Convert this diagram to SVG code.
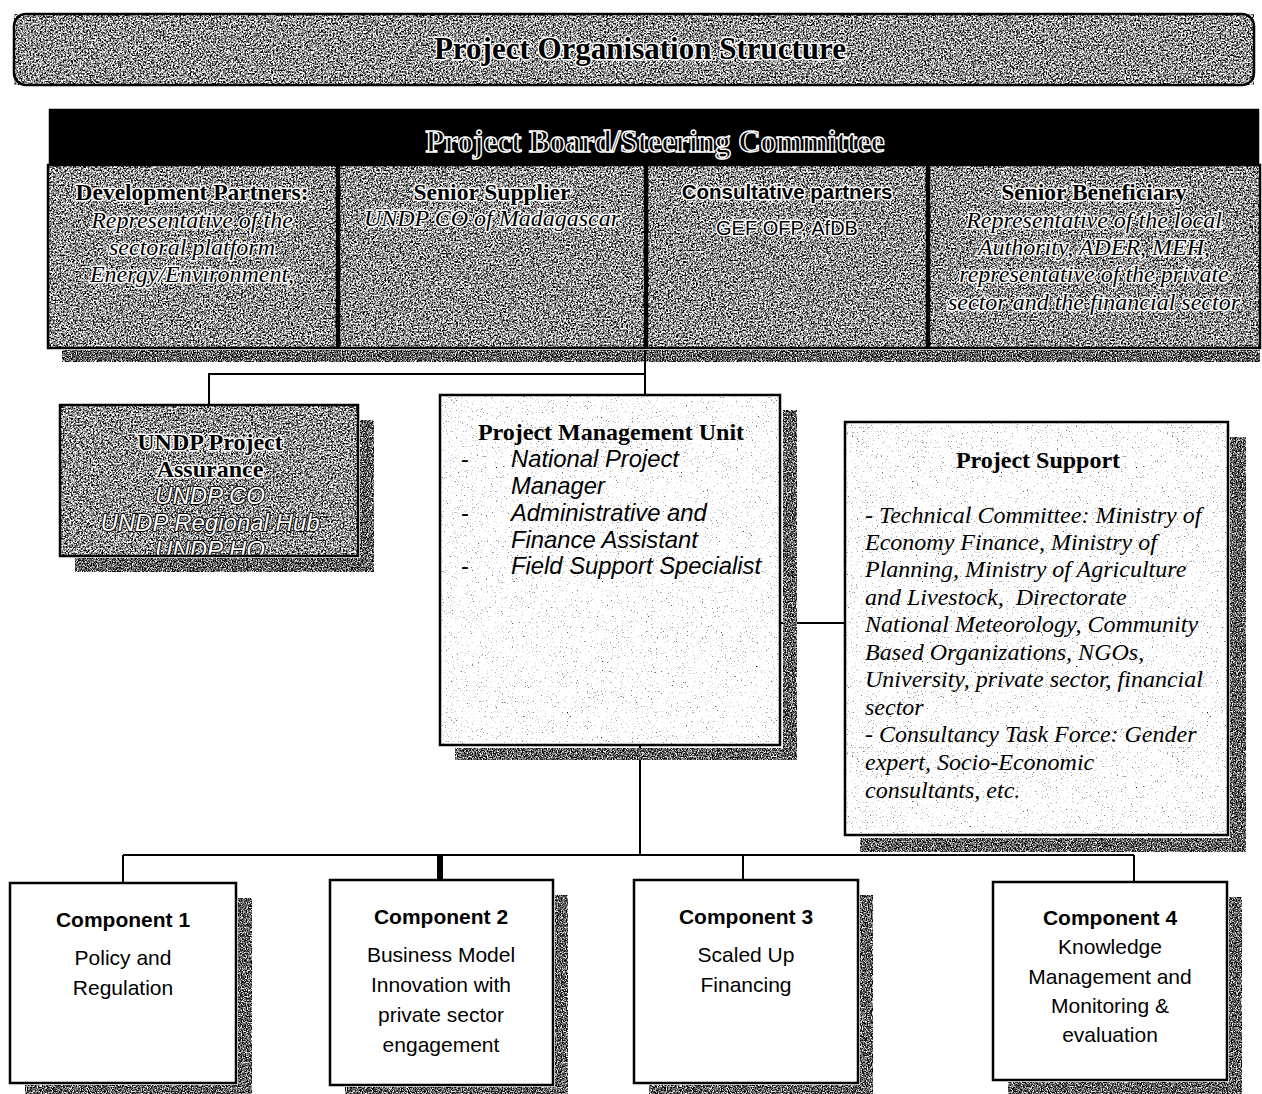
<svg xmlns="http://www.w3.org/2000/svg" width="1262" height="1094" viewBox="0 0 1262 1094">
<defs>
<style>
.box{fill:none;stroke:#000;stroke-width:2.5}
.wbox{fill:#fff;stroke:#000;stroke-width:2.5}
.ln{fill:none;stroke:#000;stroke-width:2}
.serif{font-family:"Liberation Serif","Times New Roman",serif}
.sans{font-family:"Liberation Sans",Arial,sans-serif}
.halo{fill:#000;stroke:#fff;stroke-width:3;paint-order:stroke;stroke-linejoin:round}
.hollow{fill:#fff;stroke:#000;stroke-width:2;paint-order:stroke;stroke-linejoin:round}
.bd{font-weight:bold}
.it{font-style:italic}
.c{text-anchor:middle}
</style>
<filter id="nDark" x="0" y="0" width="1" height="1" color-interpolation-filters="sRGB">
<feTurbulence type="fractalNoise" baseFrequency="0.6" numOctaves="3" seed="2"/>
<feColorMatrix type="matrix" values="0.33 0.33 0.33 0 0 0.33 0.33 0.33 0 0 0.33 0.33 0.33 0 0 0 0 0 0 1"/>
<feComponentTransfer>
<feFuncR type="linear" slope="5" intercept="-1.9"/>
<feFuncG type="linear" slope="5" intercept="-1.9"/>
<feFuncB type="linear" slope="5" intercept="-1.9"/>
</feComponentTransfer>
</filter>
<filter id="nShadow" x="0" y="0" width="1" height="1" color-interpolation-filters="sRGB">
<feTurbulence type="fractalNoise" baseFrequency="0.8" numOctaves="3" seed="5"/>
<feColorMatrix type="matrix" values="0.33 0.33 0.33 0 0 0.33 0.33 0.33 0 0 0.33 0.33 0.33 0 0 0 0 0 0 1"/>
<feComponentTransfer>
<feFuncR type="linear" slope="5" intercept="-2.1"/>
<feFuncG type="linear" slope="5" intercept="-2.1"/>
<feFuncB type="linear" slope="5" intercept="-2.1"/>
</feComponentTransfer>
</filter>
<filter id="nLight" x="0" y="0" width="1" height="1" color-interpolation-filters="sRGB">
<feTurbulence type="fractalNoise" baseFrequency="0.8" numOctaves="3" seed="9"/>
<feColorMatrix type="matrix" values="0.33 0.33 0.33 0 0 0.33 0.33 0.33 0 0 0.33 0.33 0.33 0 0 0 0 0 0 1"/>
<feComponentTransfer>
<feFuncR type="linear" slope="4" intercept="-0.65"/>
<feFuncG type="linear" slope="4" intercept="-0.65"/>
<feFuncB type="linear" slope="4" intercept="-0.65"/>
</feComponentTransfer>
</filter>
<clipPath id="clipUndp"><rect x="61" y="406" width="296" height="149"/></clipPath>
</defs>

<rect width="1262" height="1094" fill="#fff"/>

<!-- Title banner -->
<g id="title">
<rect x="14" y="14" width="1240" height="71" rx="12" filter="url(#nDark)"/>
<rect x="14" y="14" width="1240" height="71" rx="12" class="box" stroke-width="3"/>
<text x="640" y="59" class="serif bd c halo" font-size="31">Project Organisation Structure</text>
</g>

<!-- Board -->
<g id="board">
<rect x="62" y="350" width="1198" height="12" filter="url(#nShadow)"/>
<rect x="50" y="110" width="1208" height="54" fill="#000"/>
<rect x="50" y="110" width="1208" height="54" class="box"/>
<text x="655" y="152" class="serif bd c" font-size="31" fill="#000" stroke="#fff" stroke-width="1.4">Project Board/Steering Committee</text>
</g>

<g id="dev-partners">
<rect x="48" y="165" width="289" height="183" filter="url(#nDark)"/>
<rect x="48" y="165" width="289" height="183" class="box"/>
<text x="192" y="200" class="serif bd c halo" font-size="23.5">Development Partners:</text>
<text x="192" y="228" class="serif it c halo" font-size="24">Representative of the</text>
<text x="192" y="255" class="serif it c halo" font-size="24">sectoral platform</text>
<text x="192" y="282" class="serif it c halo" font-size="24">Energy/Environment,</text>
</g>

<g id="senior-supplier">
<rect x="339" y="165" width="306" height="183" filter="url(#nDark)"/>
<rect x="339" y="165" width="306" height="183" class="box"/>
<text x="492" y="200" class="serif bd c halo" font-size="23.5">Senior Supplier</text>
<text x="492" y="226" class="serif it c halo" font-size="24">UNDP CO of Madagascar</text>
</g>

<g id="consultative-partners">
<rect x="647" y="165" width="280" height="183" filter="url(#nDark)"/>
<rect x="647" y="165" width="280" height="183" class="box"/>
<text x="787" y="199" class="sans bd c halo" font-size="20.5">Consultative partners</text>
<text x="787" y="235" class="sans c halo" font-size="20">GEF OFP, AfDB</text>
</g>

<g id="senior-beneficiary">
<rect x="929" y="165" width="331" height="183" filter="url(#nDark)"/>
<rect x="929" y="165" width="331" height="183" class="box"/>
<text x="1094" y="200" class="serif bd c halo" font-size="23.5">Senior Beneficiary</text>
<text x="1094" y="228" class="serif it c halo" font-size="24">Representative of the local</text>
<text x="1094" y="255" class="serif it c halo" font-size="24">Authority, ADER, MEH,</text>
<text x="1094" y="282" class="serif it c halo" font-size="24">representative of the private</text>
<text x="1094" y="310" class="serif it c halo" font-size="24">sector and the financial sector</text>
</g>

<!-- Connectors -->
<g id="connectors">
<line x1="645" y1="350" x2="645" y2="395" class="ln"/>
<polyline points="645,374 209,374 209,405" class="ln"/>
<line x1="780" y1="623" x2="845" y2="623" class="ln"/>
<line x1="640" y1="745" x2="640" y2="855" class="ln"/>
<line x1="123" y1="855" x2="1134" y2="855" class="ln"/>
<line x1="123" y1="855" x2="123" y2="883" class="ln"/>
<line x1="440" y1="855" x2="440" y2="880" stroke="#000" stroke-width="6"/>
<line x1="743" y1="855" x2="743" y2="880" class="ln"/>
<line x1="1134" y1="855" x2="1134" y2="882" class="ln"/>
</g>

<!-- UNDP Project Assurance -->
<g id="undp-assurance">
<rect x="360" y="420" width="14" height="152" filter="url(#nShadow)"/>
<rect x="75" y="558" width="299" height="14" filter="url(#nShadow)"/>
<rect x="60" y="405" width="298" height="151" filter="url(#nDark)"/>
<g clip-path="url(#clipUndp)">
<text x="210" y="450" class="serif bd c halo" font-size="24">UNDP Project</text>
<text x="210" y="477" class="serif bd c halo" font-size="24">Assurance</text>
<text x="210" y="504" class="sans it c hollow" font-size="24">UNDP CO</text>
<text x="210" y="531" class="sans it c hollow" font-size="24">UNDP Regional Hub</text>
<text x="210" y="558" class="sans it c hollow" font-size="24">UNDP HO</text>
</g>
<rect x="60" y="405" width="298" height="151" class="box"/>
</g>

<!-- Project Management Unit -->
<g id="pmu">
<rect x="783" y="410" width="14" height="350" filter="url(#nShadow)"/>
<rect x="455" y="748" width="342" height="12" filter="url(#nShadow)"/>
<rect x="440" y="395" width="340" height="350" filter="url(#nLight)"/>
<rect x="440" y="395" width="340" height="350" class="box"/>
<text x="611" y="440" class="serif bd c" font-size="24">Project Management Unit</text>
<g class="sans it" font-size="23.8">
<text x="461" y="467" font-style="normal">-</text>
<text x="511" y="467">National Project</text>
<text x="511" y="494">Manager</text>
<text x="461" y="521" font-style="normal">-</text>
<text x="511" y="521">Administrative and</text>
<text x="511" y="548">Finance Assistant</text>
<text x="461" y="574" font-style="normal">-</text>
<text x="511" y="574">Field Support Specialist</text>
</g>
</g>

<!-- Project Support -->
<g id="project-support">
<rect x="1230" y="437" width="16" height="415" filter="url(#nShadow)"/>
<rect x="860" y="838" width="386" height="14" filter="url(#nShadow)"/>
<rect x="845" y="422" width="383" height="413" filter="url(#nLight)"/>
<rect x="845" y="422" width="383" height="413" class="box"/>
<text x="1038" y="468" class="serif bd c" font-size="24">Project Support</text>
<g class="serif it" font-size="24">
<text x="865" y="523">- Technical Committee: Ministry of</text>
<text x="865" y="550">Economy Finance, Ministry of</text>
<text x="865" y="577">Planning, Ministry of Agriculture</text>
<text x="865" y="605" xml:space="preserve">and Livestock,  Directorate</text>
<text x="865" y="632">National Meteorology, Community</text>
<text x="865" y="660">Based Organizations, NGOs,</text>
<text x="865" y="687">University, private sector, financial</text>
<text x="865" y="715">sector</text>
<text x="865" y="742">- Consultancy Task Force: Gender</text>
<text x="865" y="770">expert, Socio-Economic</text>
<text x="865" y="798">consultants, etc.</text>
</g>
</g>

<!-- Components -->
<g id="component-1">
<rect x="238" y="898" width="14" height="196" filter="url(#nShadow)"/>
<rect x="25" y="1085" width="227" height="9" filter="url(#nShadow)"/>
<rect x="10" y="883" width="226" height="200" class="wbox"/>
<text x="123" y="927" class="sans bd c" font-size="21">Component 1</text>
<text x="123" y="965" class="sans c" font-size="21">Policy and</text>
<text x="123" y="995" class="sans c" font-size="21">Regulation</text>
</g>

<g id="component-2">
<rect x="555" y="895" width="13" height="199" filter="url(#nShadow)"/>
<rect x="345" y="1087" width="223" height="7" filter="url(#nShadow)"/>
<rect x="330" y="880" width="223" height="205" class="wbox"/>
<text x="441" y="924" class="sans bd c" font-size="21">Component 2</text>
<text x="441" y="962" class="sans c" font-size="21">Business Model</text>
<text x="441" y="992" class="sans c" font-size="21">Innovation with</text>
<text x="441" y="1022" class="sans c" font-size="21">private sector</text>
<text x="441" y="1052" class="sans c" font-size="21">engagement</text>
</g>

<g id="component-3">
<rect x="860" y="895" width="13" height="199" filter="url(#nShadow)"/>
<rect x="649" y="1085" width="224" height="9" filter="url(#nShadow)"/>
<rect x="634" y="880" width="224" height="203" class="wbox"/>
<text x="746" y="924" class="sans bd c" font-size="21">Component 3</text>
<text x="746" y="962" class="sans c" font-size="21">Scaled Up</text>
<text x="746" y="992" class="sans c" font-size="21">Financing</text>
</g>

<g id="component-4">
<rect x="1229" y="897" width="13" height="197" filter="url(#nShadow)"/>
<rect x="1008" y="1082" width="234" height="12" filter="url(#nShadow)"/>
<rect x="993" y="882" width="234" height="198" class="wbox"/>
<text x="1110" y="925" class="sans bd c" font-size="21">Component 4</text>
<text x="1110" y="954" class="sans c" font-size="21">Knowledge</text>
<text x="1110" y="984" class="sans c" font-size="21">Management and</text>
<text x="1110" y="1013" class="sans c" font-size="21">Monitoring &amp;</text>
<text x="1110" y="1042" class="sans c" font-size="21">evaluation</text>
</g>
</svg>
